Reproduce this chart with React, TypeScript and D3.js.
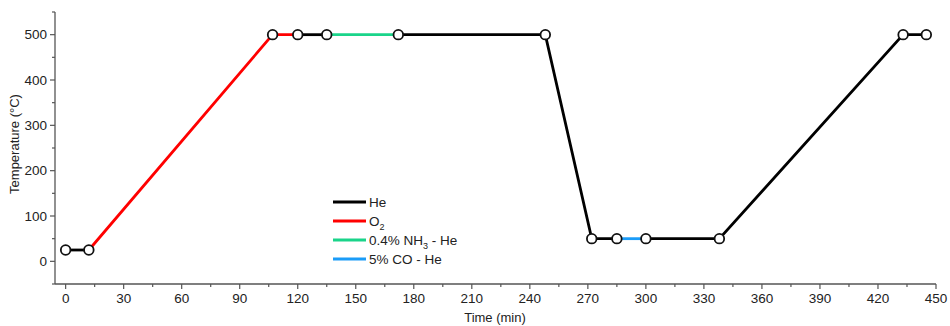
import React from "react";
import * as d3 from "d3";

// Temperature programme: segments of [time (min), temperature (°C)] per gas feed
const heSegments: [number, number][][] = [
  [[0, 25], [12, 25]],
  [[120, 500], [135, 500]],
  [[172, 500], [248, 500], [272, 50], [285, 50]],
  [[300, 50], [338, 50], [433, 500], [445, 500]],
];
const o2Segment: [number, number][] = [[12, 25], [107, 500], [120, 500]];
const nh3Segment: [number, number][] = [[135, 500], [172, 500]];
const coSegment: [number, number][] = [[285, 50], [300, 50]];
const markerPoints: [number, number][] = [
  [0, 25], [12, 25], [107, 500], [120, 500], [135, 500], [172, 500], [248, 500],
  [272, 50], [285, 50], [300, 50], [338, 50], [433, 500], [445, 500],
];

const legendLabels = ["He", "O2", "0.4% NH3 - He", "5% CO - He"];
const legendColors = ["#000000", "#ff0000", "#1ad48a", "#1a9cf8"];

const xTicks = d3.range(0, 451, 30);
const xMinorTicks = d3.range(15, 451, 30);
const yTicks = [0, 100, 200, 300, 400, 500];
const yMinorTicks = [-50, 50, 150, 250, 350, 450, 550];

const W = 950;
const H = 326;
const left = 55;
const right = 936;
const top = 12;
const bottom = 284;

export default function App() {
  const x = d3.scaleLinear().domain([-5.5, 450]).range([left, right]);
  const y = d3.scaleLinear().domain([-50, 550]).range([bottom, top]);
  const line = d3
    .line<[number, number]>()
    .x((d) => x(d[0]))
    .y((d) => y(d[1]));

  const font = "Arial, 'Liberation Sans', sans-serif";
  const axisColor = "#555";
  const textColor = "#222";
  const fs = 13.5;

  const renderLabel = (label: string) => {
    if (label === "O2")
      return (
        <>
          O<tspan fontSize={9} dy={4}>2</tspan>
        </>
      );
    if (label.includes("NH3"))
      return (
        <>
          0.4% NH<tspan fontSize={9} dy={4}>3</tspan>
          <tspan dy={-4}> - He</tspan>
        </>
      );
    return label;
  };

  return (
    <svg
      width={W}
      height={H}
      style={{ position: "absolute", left: 0, top: 0, background: "#fff" }}
      fontFamily={font}
    >
      {/* axes */}
      <line x1={left} x2={left} y1={top} y2={bottom} stroke={axisColor} strokeWidth={1.3} />
      <line x1={left} x2={right} y1={bottom} y2={bottom} stroke={axisColor} strokeWidth={1.3} />
      {xTicks.map((t) => (
        <g key={"xt" + t}>
          <line x1={x(t)} x2={x(t)} y1={bottom} y2={bottom + 5} stroke={axisColor} strokeWidth={1.2} />
          <text x={x(t)} y={bottom + 19} textAnchor="middle" fontSize={fs} fill={textColor}>
            {t}
          </text>
        </g>
      ))}
      {xMinorTicks.map((t) => (
        <line key={"xm" + t} x1={x(t)} x2={x(t)} y1={bottom} y2={bottom + 3} stroke={axisColor} strokeWidth={1.2} />
      ))}
      {yTicks.map((t) => (
        <g key={"yt" + t}>
          <line x1={left - 5} x2={left} y1={y(t)} y2={y(t)} stroke={axisColor} strokeWidth={1.2} />
          <text x={left - 8} y={y(t) + 4.5} textAnchor="end" fontSize={fs} fill={textColor}>
            {t}
          </text>
        </g>
      ))}
      {yMinorTicks.map((t) => (
        <line key={"ym" + t} x1={left - 3} x2={left} y1={y(t)} y2={y(t)} stroke={axisColor} strokeWidth={1.2} />
      ))}
      <text
        transform={`translate(19,${(top + bottom) / 2 - 4}) rotate(-90)`}
        textAnchor="middle"
        fontSize={13}
        fill={textColor}
      >
        Temperature (°C)
      </text>
      <text x={495} y={322} textAnchor="middle" fontSize={13} fill={textColor}>
        Time (min)
      </text>

      {/* programme segments */}
      {heSegments.map((seg, i) => (
        <path key={"he" + i} d={line(seg) ?? ""} fill="none" stroke={legendColors[0]} strokeWidth={2.8} />
      ))}
      <path d={line(o2Segment) ?? ""} fill="none" stroke={legendColors[1]} strokeWidth={2.8} />
      <path d={line(nh3Segment) ?? ""} fill="none" stroke={legendColors[2]} strokeWidth={2.8} />
      <path d={line(coSegment) ?? ""} fill="none" stroke={legendColors[3]} strokeWidth={2.8} />
      {markerPoints.map((p, i) => (
        <circle key={"m" + i} cx={x(p[0])} cy={y(p[1])} r={4.8} fill="#fff" stroke="#111" strokeWidth={1.8} />
      ))}

      {/* legend */}
      {legendLabels.map((label, i) => {
        const ly = 202 + i * 19;
        return (
          <g key={"lg" + i}>
            <line x1={333} x2={366} y1={ly} y2={ly} stroke={legendColors[i]} strokeWidth={2.8} />
            <text x={369} y={ly + 4.5} fontSize={fs} fill={textColor}>
              {renderLabel(label)}
            </text>
          </g>
        );
      })}
    </svg>
  );
}
